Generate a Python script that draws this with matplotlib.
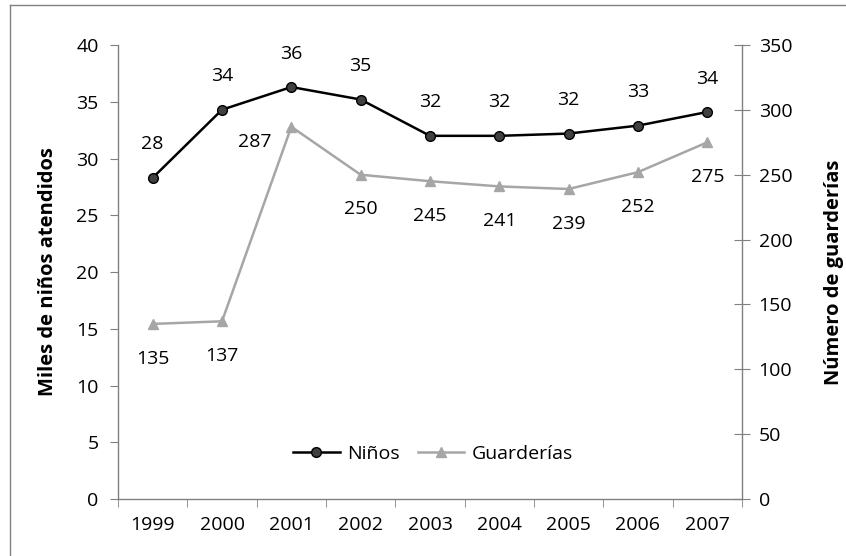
import matplotlib.pyplot as plt
import matplotlib as mpl
from matplotlib.lines import Line2D

plt.rcParams['font.family'] = ['Open Sans', 'DejaVu Sans']

years = ["1999", "2000", "2001", "2002", "2003", "2004", "2005", "2006", "2007"]
ninos = [28.3, 34.3, 36.3, 35.2, 32.0, 32.0, 32.2, 32.9, 34.1]
ninos_labels = ["28", "34", "36", "35", "32", "32", "32", "33", "34"]
guarderias = [135, 137, 287, 250, 245, 241, 239, 252, 275]

fs = 14
x = list(range(len(years)))

fig = plt.figure(figsize=(8.46, 5.56), dpi=100)
ax1 = fig.add_axes([0.1395, 0.1025, 0.7375, 0.8165])
ax2 = ax1.twinx()

l1, = ax1.plot(x, ninos, color="black", linewidth=1.8, marker="o", markersize=7,
               markerfacecolor="#404040", markeredgecolor="black", zorder=5, label="Niños")
l2, = ax2.plot(x, guarderias, color="#A6A6A6", linewidth=1.8, marker="^", markersize=7,
               markerfacecolor="#A6A6A6", markeredgecolor="#A6A6A6", zorder=4, label="Guarderías")

ax1.set_zorder(ax2.get_zorder() + 1)
ax1.patch.set_visible(False)

ax1.set_xlim(-0.5, 8.5)
ax1.set_ylim(0, 40)
ax2.set_ylim(0, 350)
ax1.set_yticks(range(0, 41, 5))
ax2.set_yticks(range(0, 351, 50))
ax1.set_xticks(x)
ax1.set_xticklabels(years, fontsize=fs)
ax1.set_xticks([i - 0.5 for i in range(len(years) + 1)], minor=True)
ax1.tick_params(axis="x", which="major", length=0, pad=12)
ax1.tick_params(axis="x", which="minor", length=6, color="#808080", direction="out")
ax1.tick_params(axis="y", labelsize=fs, length=6, color="#808080", pad=8)
ax2.tick_params(axis="y", labelsize=fs, length=12, color="#808080", direction="inout", pad=6)

for ax in (ax1, ax2):
    ax.spines["top"].set_visible(False)
    for s in ("left", "right", "bottom"):
        ax.spines[s].set_color("#808080")
        ax.spines[s].set_linewidth(1.0)
ax1.spines["right"].set_visible(False)
ax2.spines["left"].set_visible(False)
ax2.spines["bottom"].set_visible(False)

ax1.set_ylabel("Miles de niños atendidos", fontsize=14.5, fontweight="bold", labelpad=13)
ax2.set_ylabel("Número de guarderías", fontsize=14.5, fontweight="bold", labelpad=23)

for i, (v, t) in enumerate(zip(ninos, ninos_labels)):
    ax1.annotate(t, (i, v), xytext=(0, 24), textcoords="offset points",
                 ha="center", va="center", fontsize=fs, zorder=6)

for i, v in enumerate(guarderias):
    if i == 2:
        off = (-26, -11)
    else:
        off = (0, -25)
    ax2.annotate(str(v), (i, v), xytext=off, textcoords="offset points",
                 ha="center", va="center", fontsize=fs)

ax1.legend(handles=[l1, l2], loc="center", bbox_to_anchor=(0.505, 0.10), ncol=2,
           frameon=False, fontsize=fs, handlelength=2.4, handletextpad=0.4, columnspacing=0.9)

# outer chart border (only top and left edges fall inside the image)
x0, y1 = 9.5 / 846, 1 - 4.5 / 556
fig.add_artist(Line2D([x0, 1], [y1, y1], transform=fig.transFigure, color="#808080", linewidth=1.0))
fig.add_artist(Line2D([x0, x0], [0, y1], transform=fig.transFigure, color="#808080", linewidth=1.0))

fig.savefig("out.png", dpi=100)
